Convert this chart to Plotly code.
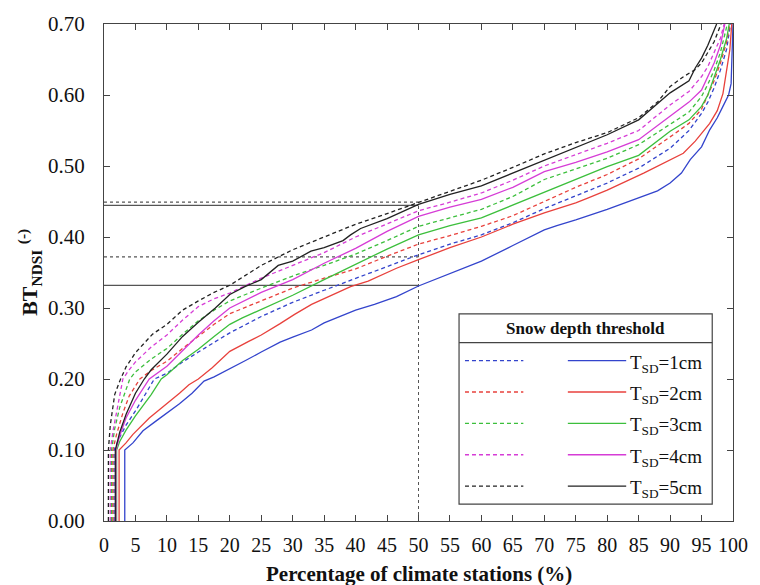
import plotly.graph_objects as go

# ---------------- data ----------------
thresholds = ["1cm", "2cm", "3cm", "4cm", "5cm"]
colors = ["#3344cc", "#e8413c", "#3cbf3c", "#d63cd6", "#222222"]

x_sd1_solid = [3.3, 3.3, 4.6, 6.2, 8.3, 10, 12, 14, 15.9, 17.5, 20, 22.5, 25, 28, 30, 33, 35, 38, 40, 43, 46.5, 50, 55, 60, 65, 70, 72, 75, 80, 85, 88, 90, 91.8, 93.2, 95, 96.3, 97.5, 98.4, 99.3, 99.7, 100]
y_sd1_solid = [0, 0.10, 0.11, 0.127, 0.141, 0.152, 0.165, 0.18, 0.197, 0.203, 0.214, 0.226, 0.238, 0.252, 0.259, 0.269, 0.279, 0.29, 0.297, 0.305, 0.316, 0.331, 0.348, 0.366, 0.388, 0.41, 0.416, 0.424, 0.439, 0.455, 0.465, 0.476, 0.49, 0.509, 0.527, 0.551, 0.568, 0.584, 0.6, 0.616, 0.70]

x_sd2_solid = [2.4, 2.4, 3.5, 4.6, 7.2, 9.9, 12, 13.5, 15, 17.2, 20, 23, 25, 28, 30.3, 33, 35, 39.2, 42, 46.5, 50, 55, 60, 65, 70, 75, 77, 80, 85.8, 88, 90, 92.1, 94, 96.3, 97.5, 98.4, 99.5, 99.8]
y_sd2_solid = [0, 0.10, 0.11, 0.122, 0.145, 0.164, 0.18, 0.192, 0.2, 0.216, 0.239, 0.253, 0.262, 0.278, 0.291, 0.305, 0.313, 0.33, 0.338, 0.356, 0.368, 0.385, 0.40, 0.418, 0.434, 0.448, 0.455, 0.466, 0.49, 0.5, 0.508, 0.518, 0.535, 0.56, 0.578, 0.602, 0.664, 0.70]

x_sd3_solid = [2.0, 2.0, 2.5, 3.5, 5, 7.5, 9.1, 10, 12.5, 15, 17.5, 20, 22, 25, 30, 35, 40, 45, 50, 55, 60, 65, 70, 75, 80, 85, 90, 93, 95, 96, 97, 98, 99, 99.4]
y_sd3_solid = [0, 0.10, 0.112, 0.128, 0.148, 0.178, 0.20, 0.206, 0.226, 0.242, 0.26, 0.277, 0.286, 0.298, 0.318, 0.34, 0.362, 0.383, 0.403, 0.416, 0.427, 0.445, 0.464, 0.482, 0.499, 0.515, 0.549, 0.565, 0.584, 0.6, 0.625, 0.65, 0.68, 0.70]

x_sd4_solid = [1.9, 1.9, 2.5, 3.5, 5, 7.2, 10, 12.5, 15, 17.5, 20, 25, 30, 35, 40, 45, 50, 55, 60, 65, 70, 75, 80, 85, 90, 93, 95, 96, 97, 98, 98.7]
y_sd4_solid = [0, 0.10, 0.12, 0.145, 0.17, 0.20, 0.218, 0.24, 0.262, 0.282, 0.30, 0.322, 0.34, 0.363, 0.384, 0.408, 0.429, 0.442, 0.453, 0.47, 0.492, 0.505, 0.52, 0.537, 0.57, 0.59, 0.607, 0.625, 0.645, 0.67, 0.70]

x_sd5_solid = [1.8, 1.8, 2.5, 3.5, 5, 6.4, 7.5, 10, 12.5, 15, 17.7, 20, 22.4, 25, 27.7, 30, 32.9, 35, 38, 39.2, 40.8, 45, 50, 55, 60, 65, 70, 75, 80, 85, 90, 93, 94, 95, 96, 97.4]
y_sd5_solid = [0, 0.10, 0.125, 0.15, 0.18, 0.20, 0.213, 0.235, 0.26, 0.28, 0.30, 0.319, 0.33, 0.34, 0.36, 0.366, 0.38, 0.385, 0.395, 0.403, 0.412, 0.426, 0.446, 0.46, 0.472, 0.49, 0.509, 0.527, 0.544, 0.565, 0.603, 0.62, 0.638, 0.652, 0.67, 0.70]

x_sd1_dash = [1.6, 1.6, 2.5, 3.5, 5, 6.5, 8, 10, 12.5, 15, 17.5, 20, 25, 28, 30, 35, 40, 45, 50, 55, 60, 65, 70, 75, 80, 85, 90, 93, 95, 96, 97, 98, 99, 99.6]
y_sd1_dash = [0, 0.10, 0.118, 0.135, 0.155, 0.178, 0.20, 0.208, 0.224, 0.238, 0.252, 0.265, 0.288, 0.30, 0.308, 0.325, 0.342, 0.358, 0.375, 0.39, 0.403, 0.42, 0.44, 0.458, 0.476, 0.497, 0.525, 0.55, 0.574, 0.59, 0.61, 0.635, 0.665, 0.70]

x_sd2_dash = [1.4, 1.4, 2, 3, 4, 5.7, 7.5, 10, 12.5, 15, 17.5, 20, 25, 30, 35, 40, 45, 50, 55, 60, 65, 70, 75, 80, 85, 90, 93, 95, 96, 97, 98, 99, 99.5]
y_sd2_dash = [0, 0.10, 0.122, 0.152, 0.176, 0.20, 0.212, 0.225, 0.243, 0.26, 0.277, 0.292, 0.31, 0.328, 0.342, 0.355, 0.373, 0.39, 0.402, 0.415, 0.43, 0.45, 0.47, 0.488, 0.51, 0.541, 0.56, 0.58, 0.6, 0.62, 0.645, 0.675, 0.70]

x_sd3_dash = [1.2, 1.2, 1.7, 2.5, 4.1, 5, 7.5, 10, 12.5, 15, 17.5, 20, 25, 30, 35, 40, 45, 50, 55, 60, 65, 70, 75, 80, 85, 90, 93, 95, 96, 97, 98, 99.1]
y_sd3_dash = [0, 0.10, 0.13, 0.16, 0.20, 0.21, 0.228, 0.243, 0.263, 0.282, 0.297, 0.31, 0.328, 0.345, 0.36, 0.376, 0.395, 0.415, 0.427, 0.439, 0.457, 0.481, 0.496, 0.511, 0.53, 0.558, 0.576, 0.598, 0.615, 0.635, 0.66, 0.70]

x_sd4_dash = [1.0, 1.0, 1.5, 2, 3, 4, 5, 7.5, 10, 12.5, 15, 17.5, 20, 25, 30, 35, 40, 45, 50, 55, 60, 65, 70, 75, 80, 85, 90, 93, 95, 96, 97, 98, 98.6]
y_sd4_dash = [0, 0.10, 0.13, 0.155, 0.20, 0.213, 0.224, 0.245, 0.262, 0.283, 0.302, 0.313, 0.321, 0.342, 0.36, 0.378, 0.40, 0.418, 0.437, 0.449, 0.462, 0.48, 0.5, 0.516, 0.532, 0.55, 0.586, 0.605, 0.626, 0.64, 0.66, 0.68, 0.70]

x_sd5_dash = [0.7, 0.7, 1.0, 1.7, 2.5, 3.5, 5, 5.7, 7.7, 10, 12.5, 15, 17.5, 20, 25, 30, 35, 40, 45, 50, 55, 60, 65, 70, 75, 80, 85, 88, 90, 92, 94, 95, 96, 97, 98.1]
y_sd5_dash = [0, 0.10, 0.135, 0.178, 0.197, 0.217, 0.237, 0.244, 0.263, 0.277, 0.297, 0.31, 0.322, 0.332, 0.36, 0.382, 0.40, 0.418, 0.433, 0.449, 0.465, 0.48, 0.498, 0.517, 0.533, 0.547, 0.568, 0.59, 0.612, 0.625, 0.636, 0.645, 0.66, 0.675, 0.70]

ref_x = [0, 50]
ref_solid_y = [0.332, 0.4445]
ref_dotted_y = [0.372, 0.449]

x_ticks = list(range(0, 101, 5))
y_ticks = [0.0, 0.1, 0.2, 0.3, 0.4, 0.5, 0.6, 0.7]

solid_x = [x_sd1_solid, x_sd2_solid, x_sd3_solid, x_sd4_solid, x_sd5_solid]
solid_y = [y_sd1_solid, y_sd2_solid, y_sd3_solid, y_sd4_solid, y_sd5_solid]
dash_x = [x_sd1_dash, x_sd2_dash, x_sd3_dash, x_sd4_dash, x_sd5_dash]
dash_y = [y_sd1_dash, y_sd2_dash, y_sd3_dash, y_sd4_dash, y_sd5_dash]

# ---------------- figure ----------------
W, H = 760, 585
L, R, T, B = 104, 20, 22, 64
PW, PH = W - L - R, H - T - B
FONT = "Liberation Serif, Times New Roman, serif"

def px(x):
    return (x - L) / PW

def py(y):
    return (H - B - y) / PH

fig = go.Figure()

# reference lines
for yv in ref_solid_y:
    fig.add_trace(go.Scatter(x=ref_x, y=[yv, yv], mode="lines",
                             line=dict(color="#555555", width=1.3), showlegend=False, hoverinfo="skip"))
for yv in ref_dotted_y:
    fig.add_trace(go.Scatter(x=ref_x, y=[yv, yv], mode="lines",
                             line=dict(color="#555555", width=1.3, dash="dot"), showlegend=False, hoverinfo="skip"))
fig.add_trace(go.Scatter(x=[ref_x[1], ref_x[1]], y=[0, max(ref_dotted_y)], mode="lines",
                         line=dict(color="#555555", width=1, dash="dot"), showlegend=False, hoverinfo="skip"))

for i in range(5):
    fig.add_trace(go.Scatter(x=dash_x[i], y=dash_y[i], mode="lines",
                             line=dict(color=colors[i], width=1.3, dash="4px,3px"),
                             showlegend=False, name="dashed " + thresholds[i]))
for i in range(5):
    fig.add_trace(go.Scatter(x=solid_x[i], y=solid_y[i], mode="lines",
                             line=dict(color=colors[i], width=1.3),
                             showlegend=False, name="T_SD=" + thresholds[i]))

# ---------------- manual legend ----------------
shapes = []
annotations = []
bx0, bx1, by0, by1 = 463, 719, 313, 504
shapes.append(dict(type="rect", xref="paper", yref="paper", x0=px(bx0), x1=px(bx1), y0=py(by1), y1=py(by0),
                   line=dict(color="#444444", width=1.2), fillcolor="white", layer="above"))
shapes.append(dict(type="line", xref="paper", yref="paper", x0=px(bx0), x1=px(bx1), y0=py(342), y1=py(342),
                   line=dict(color="#444444", width=1.2), layer="above"))
annotations.append(dict(xref="paper", yref="paper", x=px((bx0 + bx1) / 2), y=py(327.5),
                        text="<b>Snow depth threshold</b>", showarrow=False,
                        font=dict(family=FONT, size=17, color="#111111"), xanchor="center", yanchor="middle"))
rows = [360, 391.5, 423, 454.5, 486]
for i in range(5):
    yy = py(rows[i])
    shapes.append(dict(type="line", xref="paper", yref="paper", x0=px(469), x1=px(528), y0=yy, y1=yy,
                       line=dict(color=colors[i], width=1.3, dash="4px,3px"), layer="above"))
    shapes.append(dict(type="line", xref="paper", yref="paper", x0=px(573), x1=px(632), y0=yy, y1=yy,
                       line=dict(color=colors[i], width=1.3), layer="above"))
    annotations.append(dict(xref="paper", yref="paper", x=px(634), y=py(rows[i] + 3),
                            text="T<sub>SD</sub>=" + thresholds[i], showarrow=False,
                            font=dict(family=FONT, size=19, color="#111111"), xanchor="left", yanchor="middle"))

# axis titles
annotations.append(dict(xref="paper", yref="paper", x=px(422), y=py(574),
                        text="<b>Percentage of climate stations (%)</b>", showarrow=False,
                        font=dict(family=FONT, size=21, color="#111111"), xanchor="center", yanchor="middle"))
annotations.append(dict(xref="paper", yref="paper", x=px(28), y=py(271),
                        text="<b>BT<sub>NDSI</sub> <sup>(-)</sup></b>", showarrow=False, textangle=-90,
                        font=dict(family=FONT, size=22, color="#111111"), xanchor="center", yanchor="middle"))

fig.update_layout(
    width=W, height=H,
    margin=dict(l=L, r=R, t=T, b=B),
    paper_bgcolor="white", plot_bgcolor="white",
    font=dict(family=FONT, size=19, color="#111111"),
    shapes=shapes, annotations=annotations,
    showlegend=False,
)
fig.update_xaxes(range=[0, 100], tickvals=x_ticks, ticktext=[str(v) for v in x_ticks],
                 ticks="inside", ticklen=6, tickcolor="#444444", tickangle=0,
                 showline=True, linecolor="#444444", linewidth=1.2, mirror="ticks",
                 showgrid=False, zeroline=False, ticklabelstandoff=6,
                 tickfont=dict(family=FONT, size=20, color="#111111"))
fig.update_yaxes(range=[0, 0.70], tickvals=y_ticks, tickformat=".2f",
                 ticks="inside", ticklen=6, tickcolor="#444444",
                 showline=True, linecolor="#444444", linewidth=1.2, mirror="ticks",
                 showgrid=False, zeroline=False, ticklabelstandoff=14,
                 tickfont=dict(family=FONT, size=21, color="#111111"))

fig.write_html("out.html")
